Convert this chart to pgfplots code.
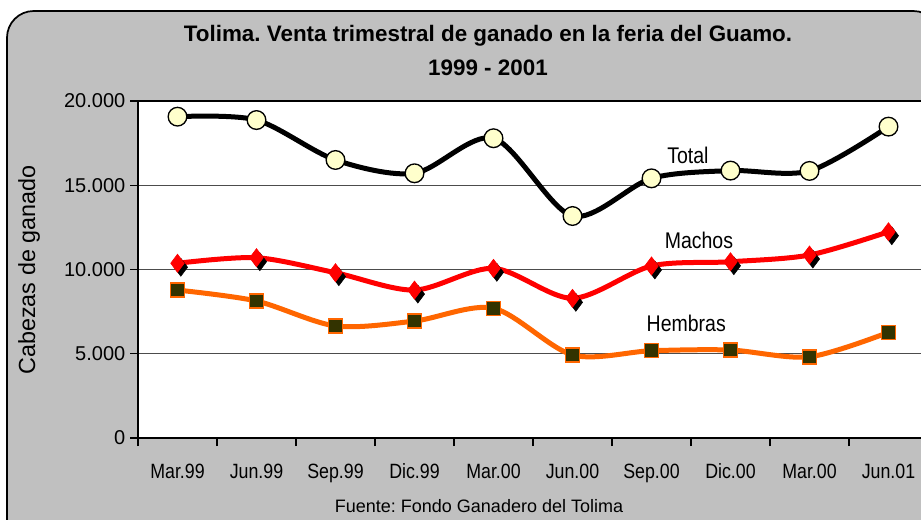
\documentclass[border=0pt]{standalone}
\usepackage{fontspec}
\setmainfont{Liberation Sans}
\newfontfamily\narrow{Liberation Sans}[FakeStretch=0.86]
\usepackage{pgfplots}
\pgfplotsset{compat=1.18}
\definecolor{bg}{HTML}{C0C0C0}
\definecolor{ylw}{HTML}{FFFFCC}
\definecolor{org}{HTML}{FF6600}
\definecolor{olv}{HTML}{333300}
\frenchspacing
\begin{document}
\begin{tikzpicture}[x=0.75pt,y=-0.75pt]
\begin{scope}
\clip (0,0) rectangle (921,519);
\draw[line width=1.3pt, fill=bg, rounded corners=20pt] (7,11) rectangle (940,560);
\node[anchor=base, font=\bfseries\fontsize{16.8}{18}\selectfont] at (488,41) {Tolima. Venta trimestral de ganado en la feria del Guamo.};
\node[anchor=base, font=\bfseries\fontsize{16.8}{18}\selectfont] at (488,75) {1999 - 2001};
\node[anchor=base, font=\fontsize{13.5}{15}\selectfont] at (479,512) {Fuente: Fondo Ganadero del Tolima};
\node[anchor=base, rotate=90, font=\fontsize{17.5}{19}\selectfont] at (35,270) {Cabezas de ganado};
\begin{axis}[at={(103.5pt,-328.5pt)}, anchor=south west, scale only axis,
  width=592.5pt, height=252.75pt,
  xmin=-0.5, xmax=9.5, ymin=0, ymax=20000,
  xtick={-0.5,0.5,1.5,2.5,3.5,4.5,5.5,6.5,7.5,8.5,9.5},
  x tick label as interval,
  xticklabels={Mar.99,Jun.99,Sep.99,Dic.99,Mar.00,Jun.00,Sep.00,Dic.00,Mar.00,Jun.01},
  ytick={0,5000,10000,15000,20000},
  yticklabels={0,5.000,10.000,15.000,20.000},
  scaled y ticks=false,
  tick pos=left,
  tick align=outside, major tick length=6pt,
  tick style={black, line width=1.1pt},
  ymajorgrids, grid style={black!70, line width=0.8pt},
  axis line style={black, line width=1.5pt},
  axis background/.style={fill=white},
  x tick label style={font=\narrow\fontsize{15.5}{17}\selectfont, text height=11pt, text depth=3pt, yshift=-10pt},
  y tick label style={font=\fontsize{15}{17}\selectfont},
  clip=false]
% Total
\addplot[black, line width=3.75pt, smooth, mark=*, mark size=7pt,
  mark options={fill=ylw, draw=black, line width=1pt}]
  coordinates {(0,19070)(1,18870)(2,16500)(3,15710)(4,17790)(5,13175)(6,15410)(7,15870)(8,15850)(9,18480)};
% Machos shadow
\addplot[draw=none, mark=diamond*, mark size=6.75pt,
  mark options={fill=black, draw=black, xshift=2.5pt, yshift=-3pt}]
  coordinates {(0,10370)(1,10700)(2,9810)(3,8780)(4,10070)(5,8290)(6,10210)(7,10460)(8,10860)(9,12240)};
% Machos
\addplot[red, line width=3.75pt, smooth, mark=diamond*, mark size=6.75pt,
  mark options={fill=red, draw=red, line width=0.5pt}]
  coordinates {(0,10370)(1,10700)(2,9810)(3,8780)(4,10070)(5,8290)(6,10210)(7,10460)(8,10860)(9,12240)};
% Hembras
\addplot[org, line width=3.75pt, smooth, mark=square*, mark size=5.25pt,
  mark options={fill=olv, draw=org, line width=1.1pt}]
  coordinates {(0,8780)(1,8130)(2,6650)(3,6940)(4,7700)(5,4930)(6,5180)(7,5220)(8,4820)(9,6270)};
\node[font=\narrow\fontsize{17}{19}\selectfont] at (axis cs:6.46,16795) {Total};
\node[font=\narrow\fontsize{17}{19}\selectfont] at (axis cs:6.60,11751) {Machos};
\node[font=\narrow\fontsize{17}{19}\selectfont] at (axis cs:6.44,6825) {Hembras};
\end{axis}
\end{scope}
\pgfresetboundingbox
\path[use as bounding box] (0,0) rectangle (921,519);
\end{tikzpicture}
\end{document}
